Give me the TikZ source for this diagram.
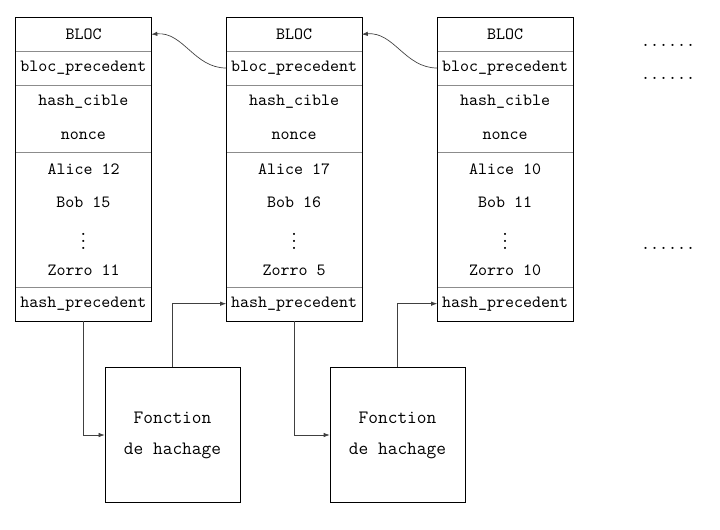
\documentclass[tikz,border=0pt]{standalone}
\usetikzlibrary{arrows.meta}
\begin{document}
\begin{tikzpicture}[x=0.58333pt,y=-0.58333pt,
  row/.style={minimum width=78.75pt,minimum height=19.64pt,inner sep=0pt,font=\ttfamily},
  sep/.style={draw=black!45},
  fbox/.style={draw,minimum width=78.75pt,minimum height=78.75pt,inner sep=0pt,font=\fontsize{11}{13.2}\selectfont\ttfamily,align=center},
  conn/.style={draw=black!75,-{Latex[length=3.5pt,width=2.6pt]}},
  dots/.style={font=\ttfamily,anchor=base,inner sep=0pt}]
\useasboundingbox (0,0) rectangle (720,529);
\foreach \b/\x/\a/\bb/\z in {1/83.5/12/15/11, 2/294/17/16/5, 3/505/10/11/10} {
  \node[row] (b\b-0) at (\x,34.33) {BLOC};
  \node[row] (b\b-1) at (\x,68.0) {bloc\_precedent};
  \node[row] (b\b-2) at (\x,101.67) {hash\_cible};
  \node[row] (b\b-3) at (\x,135.33) {nonce};
  \node[row] (b\b-4) at (\x,169.0) {Alice \a};
  \node[row] (b\b-5) at (\x,202.67) {Bob \bb};
  \node[row] (b\b-6) at (\x,236.33) {$\vdots$};
  \node[row] (b\b-7) at (\x,270.0) {Zorro \z};
  \node[row] (b\b-8) at (\x,303.67) {hash\_precedent};
  \draw[sep] (b\b-0.south west) -- (b\b-0.south east);
  \draw[sep] (b\b-1.south west) -- (b\b-1.south east);
  \draw[sep] (b\b-3.south west) -- (b\b-3.south east);
  \draw[sep] (b\b-7.south west) -- (b\b-7.south east);
  \draw (b\b-0.north west) rectangle (b\b-8.south east);
}
\node[fbox] (f1) at (172.5,435) {Fonction\\[4.9pt]de hachage};
\node[fbox] (f2) at (397.5,435) {Fonction\\[4.9pt]de hachage};
\draw[conn] (b1-8.south) |- (f1.west);
\draw[conn] (f1.north) |- (b2-8.west);
\draw[conn] (b2-8.south) |- (f2.west);
\draw[conn] (f2.north) |- (b3-8.west);
\draw[conn] (b2-1.west) to[out=180,in=5] (b1-0.east);
\draw[conn] (b3-1.west) to[out=180,in=5] (b2-0.east);
\node[dots] (d1) at (668,46.5) {......};
\node[dots] (d2) at (668,79.5) {......};
\node[dots] (d3) at (668,249.5) {......};
\end{tikzpicture}
\end{document}
